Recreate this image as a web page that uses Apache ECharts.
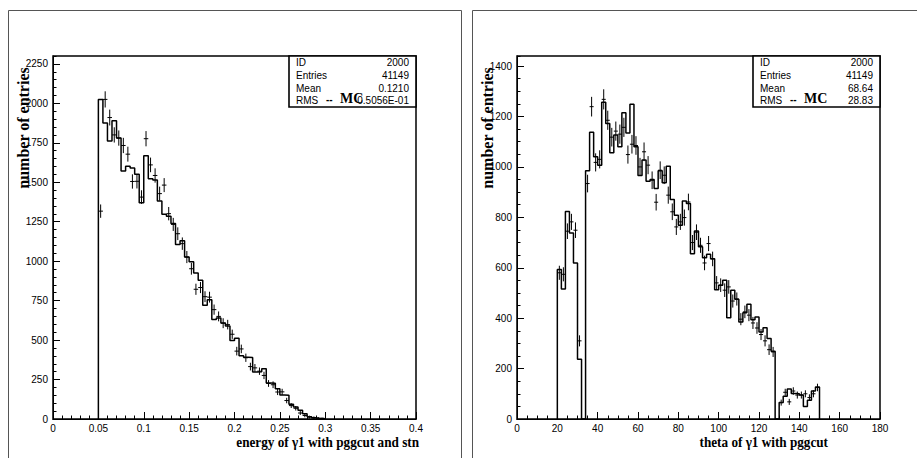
<!DOCTYPE html>
<html><head><meta charset="utf-8">
<script src="https://cdn.jsdelivr.net/npm/echarts@6/dist/echarts.min.js"></script>
<style>html,body{margin:0;padding:0;background:#fff}#c{width:917px;height:458px}</style>
</head><body><div id="c"></div>
<script>
// ---------- Left panel: energy of gamma1 ----------
const energyBinStart = 0.05;
const energyBinWidth = 0.005;
const energyMC = [2025, 1875, 1762, 1890, 1780, 1572, 1602, 1590, 1550, 1370,
  1668, 1522, 1515, 1381, 1297, 1285, 1238, 1105, 1130, 1026,
  996, 925, 879, 720, 756, 630, 640, 608, 590, 498,
  512, 401, 392, 390, 298, 300, 319, 228, 226, 192,
  152, 150, 93, 76, 55, 34, 14, 8, 4, 1];
const energyData = [1317, 2025, 1910, 1800, 1780, 1733, 1678, 1505, 1506, 1406,
  1776, 1610, 1543, 1428, 1482, 1301, 1233, 1174, 1111, 1026,
  952, 822, 833, 775, 772, 693, 650, 607, 598, 537,
  430, 444, 388, 332, 324, 303, 276, 225, 217, 171,
  172, 117, 85, 68, 38, 22, 12, 7, 3, 1];
const energyErr = [36, 45, 44, 42, 42, 42, 41, 39, 39, 37,
  42, 40, 39, 38, 38, 36, 35, 34, 33, 32,
  31, 29, 29, 28, 28, 26, 25, 25, 24, 23,
  21, 21, 20, 18, 18, 17, 17, 15, 15, 13,
  13, 11, 9, 8, 6, 5, 3, 3, 2, 1];
const energyXTicks = ['0', '0.05', '0.1', '0.15', '0.2', '0.25', '0.3', '0.35', '0.4'];
const energyYTicks = ['0', '250', '500', '750', '1000', '1250', '1500', '1750', '2000', '2250'];
const energyStats = [['ID', '2000'], ['Entries', '41149'], ['Mean', '0.1210'], ['RMS', '0.5056E-01']];

// ---------- Right panel: theta of gamma1 ----------
const thetaBinStart = 20;
const thetaBinWidth = 2;
const thetaMC = [593, 516, 823, 738, 619, 237, 0, 985, 1138, 1040,
  1007, 1257, 1172, 1056, 1127, 1080, 1215, 1135, 1249, 1080,
  966, 1027, 943, 950, 914, 985, 937, 1003, 871, 808,
  769, 865, 855, 656, 746, 683, 640, 654, 636, 513,
  531, 550, 402, 511, 475, 385, 421, 455, 394, 405,
  345, 362, 319, 269, 0, 65, 90, 119, 101, 100,
  95, 50, 74, 111, 127];
const thetaData = [580, 574, 745, 782, 749, 310, null, 934, 1239, 1018,
  1030, 1268, 1185, 1118, 1142, 1130, 1157, 1049, 1090, 1085,
  1000, 1060, 1007, 947, 860, 987, 967, 888, 822, 762,
  782, 799, 861, 700, 741, 689, 619, 696, 635, 540,
  531, 511, 524, 468, 476, 396, 425, 412, 381, 361,
  335, 310, 275, 266, null, 65, 106, 68, 111, 95,
  95, 100, 85, 100, 125];
const thetaErr = [24, 24, 27, 28, 27, 18, 0, 31, 35, 32,
  32, 36, 34, 33, 34, 34, 34, 32, 33, 33,
  32, 33, 32, 31, 29, 31, 31, 30, 29, 28,
  28, 28, 29, 26, 27, 26, 25, 26, 25, 23,
  23, 23, 23, 22, 22, 20, 21, 20, 20, 19,
  18, 18, 17, 16, 0, 8, 10, 8, 11, 10,
  10, 10, 9, 10, 11];
const thetaXTicks = ['0', '20', '40', '60', '80', '100', '120', '140', '160', '180'];
const thetaYTicks = ['0', '200', '400', '600', '800', '1000', '1200', '1400'];
const thetaStats = [['ID', '2000'], ['Entries', '41149'], ['Mean', '68.64'], ['RMS', '28.83']];

// ---------- helpers ----------
function stepLine(start, width, vals) {
  const pts = [[start, 0]];
  vals.forEach((v, i) => {
    const lo = start + i * width, hi = start + (i + 1) * width;
    pts.push([lo, v], [hi, v]);
  });
  pts.push([start + vals.length * width, 0]);
  return pts;
}
function crossData(start, width, vals, errs) {
  const out = [];
  vals.forEach((v, i) => {
    if (v === null) return;
    out.push([start + (i + 0.5) * width, v, errs[i], width / 2]);
  });
  return out;
}
function renderCross(params, api) {
  const x = api.value(0), y = api.value(1), e = api.value(2), hw = api.value(3);
  const c = api.coord([x, y]);
  const t = api.coord([x, y + e]);
  const b = api.coord([x, Math.max(0, y - e)]);
  const l = api.coord([x - hw, y]);
  const r = api.coord([x + hw, y]);
  const st = { stroke: '#000', lineWidth: 1 };
  return { type: 'group', children: [
    { type: 'line', shape: { x1: c[0], y1: t[1] - 1, x2: c[0], y2: b[1] + 1 }, style: st },
    { type: 'line', shape: { x1: l[0], y1: c[1], x2: r[0], y2: c[1] }, style: st }
  ]};
}
const SANS = 'Liberation Sans, Arial, sans-serif';
const SERIF = 'Liberation Serif, Times New Roman, serif';
const lab = { fontFamily: SANS, fontSize: 10, color: '#000' };
const axLine = { show: true, lineStyle: { color: '#000', width: 1 } };

function xAxes(grid, max, interval, ticks, minorSplit) {
  return [{
    gridIndex: grid, type: 'value', min: 0, max: max, interval: interval,
    axisLine: axLine,
    axisTick: { show: true, inside: true, length: 7, lineStyle: { color: '#000' } },
    minorTick: { show: true, splitNumber: minorSplit, length: 3.5, lineStyle: { color: '#000' } },
    splitLine: { show: false },
    axisLabel: Object.assign({ margin: 4, formatter: v => ticks[Math.round(v / interval)] }, lab)
  }];
}
function yAxes(grid, max, interval, minorInterval, ticks) {
  return [{
    gridIndex: grid, type: 'value', min: 0, max: max, interval: interval, position: 'left',
    axisLine: axLine,
    axisTick: { show: true, inside: true, length: 7, lineStyle: { color: '#000' } },
    splitLine: { show: false },
    axisLabel: Object.assign({ margin: 5, showMaxLabel: false,
      formatter: v => { const k = Math.round(v / interval); return (Math.abs(k * interval - v) < 1e-6 && ticks[k] !== undefined) ? ticks[k] : ''; } }, lab)
  }, {
    gridIndex: grid, type: 'value', min: 0, max: max, interval: minorInterval, position: 'left', offset: 0,
    axisLine: { show: false },
    axisTick: { show: true, inside: true, length: 3.5, lineStyle: { color: '#000' } },
    splitLine: { show: false },
    axisLabel: { show: false }
  }];
}

function statsBox(x, y, w, h, rows, mcX) {
  const els = [{ type: 'rect', shape: { x: x, y: y, width: w, height: h },
    style: { fill: '#fff', stroke: '#000', lineWidth: 1.6 }, z: 100 }];
  const rowY = [6, 19, 32, 44];
  rows.forEach((r, i) => {
    els.push({ type: 'text', x: x + 7, y: y + rowY[i], z: 101,
      style: { text: r[0], font: '10px ' + SANS, fill: '#000', textAlign: 'left', textVerticalAlign: 'middle' } });
    els.push({ type: 'text', x: x + w - 7, y: y + rowY[i], z: 101,
      style: { text: r[1], font: '10px ' + SANS, fill: '#000', textAlign: 'right', textVerticalAlign: 'middle' } });
  });
  els.push({ type: 'text', x: mcX, y: y + 43, z: 102,
    style: { text: '--', font: 'bold 10px ' + SANS, fill: '#000', textAlign: 'left', textVerticalAlign: 'middle' } });
  els.push({ type: 'text', x: mcX + 14, y: y + 42, z: 102,
    style: { text: 'MC', font: 'bold 14px ' + SERIF, fill: '#000', textAlign: 'left', textVerticalAlign: 'middle' } });
  return els;
}

const chart = echarts.init(document.getElementById('c'), null, { renderer: 'svg', width: 917, height: 458 });
const option = {
  animation: false,
  backgroundColor: '#fff',
  grid: [
    { left: 53, top: 56, width: 363, height: 363, show: true, borderColor: '#000', borderWidth: 1.5, backgroundColor: 'transparent' },
    { left: 517, top: 56, width: 363, height: 363, show: true, borderColor: '#000', borderWidth: 1.5, backgroundColor: 'transparent' }
  ],
  xAxis: [].concat(xAxes(0, 0.4, 0.05, energyXTicks, 5), xAxes(1, 180, 20, thetaXTicks, 4)),
  yAxis: [].concat(yAxes(0, 2300, 250, 50, energyYTicks), yAxes(1, 1440, 200, 50, thetaYTicks)),
  series: [
    { type: 'line', xAxisIndex: 0, yAxisIndex: 0, data: stepLine(energyBinStart, energyBinWidth, energyMC),
      symbol: 'none', lineStyle: { color: '#000', width: 1.5 }, z: 3 },
    { type: 'custom', xAxisIndex: 0, yAxisIndex: 0, data: crossData(energyBinStart, energyBinWidth, energyData, energyErr),
      renderItem: renderCross, encode: { x: 0, y: 1 }, z: 4 },
    { type: 'line', xAxisIndex: 1, yAxisIndex: 2, data: stepLine(thetaBinStart, thetaBinWidth, thetaMC),
      symbol: 'none', lineStyle: { color: '#000', width: 1.5 }, z: 3 },
    { type: 'custom', xAxisIndex: 1, yAxisIndex: 2, data: crossData(thetaBinStart, thetaBinWidth, thetaData, thetaErr),
      renderItem: renderCross, encode: { x: 0, y: 1 }, z: 4 }
  ],
  graphic: [].concat(
    [
      { type: 'rect', shape: { x: 8.5, y: 10.5, width: 453, height: 470 }, style: { fill: 'none', stroke: '#555', lineWidth: 1 }, z: 0 },
      { type: 'rect', shape: { x: 472.5, y: 10.5, width: 460, height: 470 }, style: { fill: 'none', stroke: '#555', lineWidth: 1 }, z: 0 },
      { type: 'text', x: 23, y: 128, rotation: Math.PI / 2, z: 110,
        style: { text: 'number of entries', font: 'bold 16px ' + SERIF, fill: '#000', textAlign: 'center', textVerticalAlign: 'middle' } },
      { type: 'text', x: 487, y: 128, rotation: Math.PI / 2, z: 110,
        style: { text: 'number of entries', font: 'bold 16px ' + SERIF, fill: '#000', textAlign: 'center', textVerticalAlign: 'middle' } },
      { type: 'text', x: 419, y: 442, z: 110, scaleX: 0.88,
        style: { text: 'energy of γ1 with pggcut and stn', font: 'bold 15px ' + SERIF, fill: '#000', textAlign: 'right', textVerticalAlign: 'middle' } },
      { type: 'text', x: 828, y: 442, z: 110, scaleX: 0.88,
        style: { text: 'theta of γ1 with pggcut', font: 'bold 15px ' + SERIF, fill: '#000', textAlign: 'right', textVerticalAlign: 'middle' } }
    ],
    statsBox(289, 56, 127, 51, energyStats, 326),
    statsBox(753, 56, 127, 51, thetaStats, 790)
  )
};
chart.setOption(option);
</script>
</body></html>
